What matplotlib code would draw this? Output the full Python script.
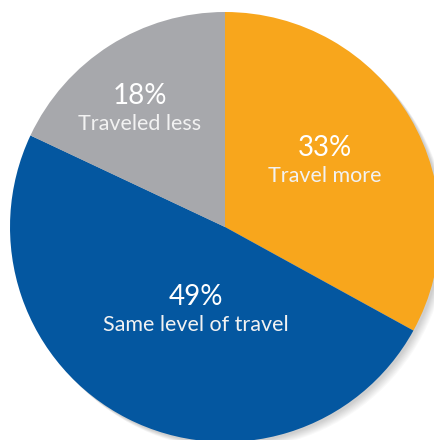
import matplotlib.pyplot as plt
from matplotlib.patches import Circle

categories = ["Travel more", "Same level of travel", "Traveled less"]
shares = [33, 49, 18]
colors = ["#F8A61C", "#0457A0", "#A7A8AC"]

# label anchor points in pixel space (x, y from top)
label_pos = [(325, 162), (196, 311), (140, 110)]

W, H = 435, 440
fig = plt.figure(figsize=(W / 100, H / 100), dpi=100)
ax = fig.add_axes([0, 0, 1, 1])

cx, cy, r = 225, H - 227, 215

# soft shadow at lower right
for i in range(8):
    ax.add_patch(Circle((cx + 2 + i * 0.8, cy - 2 - i * 0.8), r, color="black",
                        alpha=0.025, lw=0, zorder=0))

ax.pie(shares, colors=colors, startangle=90, counterclock=False,
       center=(cx, cy), radius=r, frame=True,
       wedgeprops=dict(linewidth=0))
ax.set_xlim(0, W)
ax.set_ylim(0, H)
ax.set_aspect("equal")
ax.axis("off")

font = ["Lato", "DejaVu Sans"]
for cat, val, (x, y) in zip(categories, shares, label_pos):
    ax.text(x, H - y + 14, f"{val}%", ha="center", va="center", color="white",
            fontsize=20, family=font)
    ax.text(x, H - y - 14, cat, ha="center", va="center", color="#F2F2F2",
            fontsize=15.5, family=font)

fig.savefig("out.png", dpi=100, facecolor="white")
